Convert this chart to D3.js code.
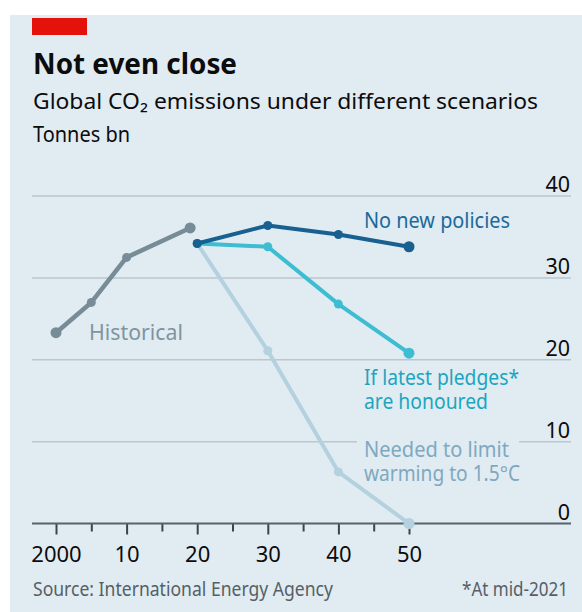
<!DOCTYPE html>
<html>
<head>
<meta charset="utf-8">
<script src="https://cdn.jsdelivr.net/npm/d3@7"></script>
<style>
  body { margin: 0; background: #fff; }
  svg text { font-family: "Noto Sans", "Open Sans", sans-serif; }
</style>
</head>
<body>
<div id="chart"></div>
<script>
// data (tonnes bn)
var histYears = [2000, 2005, 2010, 2019];
var histValues = [23.3, 27.0, 32.5, 36.1];
var scenYears = [2020, 2030, 2040, 2050];
var noNewPolicies = [34.2, 36.4, 35.3, 33.8];
var pledges = [34.2, 33.8, 26.8, 20.8];
var limit15 = [34.2, 21.1, 6.3, 0];
var yTicks = [0, 10, 20, 30, 40];
var xMajor = [2000, 2010, 2020, 2030, 2040, 2050];
var xMinor = [2005, 2015, 2025, 2035, 2045];

var W = 582, H = 612;
var bg = "#e1ebf2";

var svg = d3.select("#chart").append("svg")
	.attr("width", W)
	.attr("height", H);

svg.append("rect").attr("x", 10).attr("y", 15).attr("width", W - 10).attr("height", H - 15).attr("fill", bg);
svg.append("rect").attr("x", 32).attr("y", 18).attr("width", 55).attr("height", 17).attr("fill", "#e3120b");

// squeeze text to the width it has in the picture
function fit(t, w) {
	t.attr("textLength", w).attr("lengthAdjust", "spacingAndGlyphs");
	return t;
}

fit(svg.append("text").attr("x", 33).attr("y", 74).attr("font-size", 29).attr("font-weight", "bold")
	.attr("fill", "#0c0c0c").text("Not even close"), 204);
fit(svg.append("text").attr("x", 33).attr("y", 108.5).attr("font-size", 21.5).attr("fill", "#0c0c0c")
	.text("Global CO\u2082 emissions under different scenarios"), 505);
fit(svg.append("text").attr("x", 33).attr("y", 141.5).attr("font-size", 21.5).attr("fill", "#0c0c0c")
	.text("Tonnes bn"), 97);

var x = d3.scaleLinear().domain([2000, 2050]).range([56, 409]);
var y = d3.scaleLinear().domain([0, 40]).range([523.5, 196]);

// gridlines (0 is the axis, drawn later)
svg.append("g").selectAll("line")
	.data(yTicks.filter(function(d) { return d > 0; }))
	.enter().append("line")
	.attr("x1", 32).attr("x2", 571)
	.attr("y1", function(d) { return y(d); })
	.attr("y2", function(d) { return y(d); })
	.attr("stroke", "#bcc6cc")
	.attr("stroke-width", 1.5);

svg.append("g").selectAll("text")
	.data(yTicks)
	.enter().append("text")
	.attr("x", 570)
	.attr("y", function(d) { return y(d) - 4; })
	.attr("text-anchor", "end")
	.attr("font-size", 21.5)
	.attr("fill", "#0c0c0c")
	.text(function(d) { return d; });

// gap in the 10 gridline behind the 1.5C label
svg.append("rect").attr("x", 357).attr("y", y(10) - 3).attr("width", 162).attr("height", 6).attr("fill", bg);

// x axis
var axisMajor = d3.axisBottom(x).tickValues(xMajor).tickSize(11).tickSizeOuter(0)
	.tickFormat(function(d) { return d == 2000 ? "2000" : String(d % 100); });
var gx = svg.append("g").attr("transform", "translate(0," + y(0) + ")").call(axisMajor);
gx.select(".domain").remove();
gx.selectAll(".tick line").attr("stroke", "#3c4449").attr("stroke-width", 2);
gx.selectAll(".tick text").attr("font-size", 22).attr("fill", "#0c0c0c")
	.attr("y", 38).attr("dy", 0)
	.style("font-family", "'Noto Sans', sans-serif");

var gm = svg.append("g").attr("transform", "translate(0," + y(0) + ")")
	.call(d3.axisBottom(x).tickValues(xMinor).tickSize(8).tickFormat(""));
gm.select(".domain").remove();
gm.selectAll(".tick line").attr("stroke", "#3c4449").attr("stroke-width", 2);

svg.append("line").attr("x1", 32).attr("x2", 571).attr("y1", y(0)).attr("y2", y(0))
	.attr("stroke", "#56636a").attr("stroke-width", 2.2);

var line = d3.line()
	.x(function(d) { return x(d[0]); })
	.y(function(d) { return y(d[1]); });

function drawSeries(years, vals, color, width) {
	var pts = years.map(function(yr, i) { return [yr, vals[i]]; });
	svg.append("path")
		.datum(pts)
		.attr("d", line)
		.attr("fill", "none")
		.attr("stroke", color)
		.attr("stroke-width", width)
		.attr("stroke-linejoin", "round");
	svg.append("g").selectAll("circle")
		.data(pts)
		.enter().append("circle")
		.attr("cx", function(d) { return x(d[0]); })
		.attr("cy", function(d) { return y(d[1]); })
		.attr("r", function(d, i) { return i == pts.length - 1 || i == 0 && years[0] == 2000 ? 5.5 : 4.5; })
		.attr("fill", color);
}

drawSeries(scenYears, limit15, "#b3d1de", 4);
drawSeries(scenYears, pledges, "#3cbdd1", 4);
drawSeries(scenYears, noNewPolicies, "#17608f", 4);
drawSeries(histYears, histValues, "#778c96", 4.5);

// series labels; two-line ones are one text with tspans
function label(xp, yp, color, lines, widths) {
	var t = svg.append("text").attr("x", xp).attr("y", yp).attr("font-size", 22).attr("fill", color);
	lines.forEach(function(s, i) {
		fit(t.append("tspan").attr("x", xp).attr("dy", i == 0 ? 0 : 24).text(s), widths[i]);
	});
}

label(364, 228, "#1b6a9a", ["No new policies"], [146]);
label(89, 340, "#7f949e", ["Historical"], [94]);
label(364, 385, "#1aa6bf", ["If latest pledges*", "are honoured"], [155, 124]);
label(364, 457, "#7ea9c0", ["Needed to limit", "warming to 1.5\u00b0C"], [145, 156]);

// footer
fit(svg.append("text").attr("x", 33).attr("y", 596).attr("font-size", 19).attr("fill", "#555f66")
	.text("Source: International Energy Agency"), 300);
fit(svg.append("text").attr("x", 568).attr("y", 596).attr("font-size", 19).attr("fill", "#555f66")
	.attr("text-anchor", "end")
	.text("*At mid-2021"), 106);
</script>
</body>
</html>
